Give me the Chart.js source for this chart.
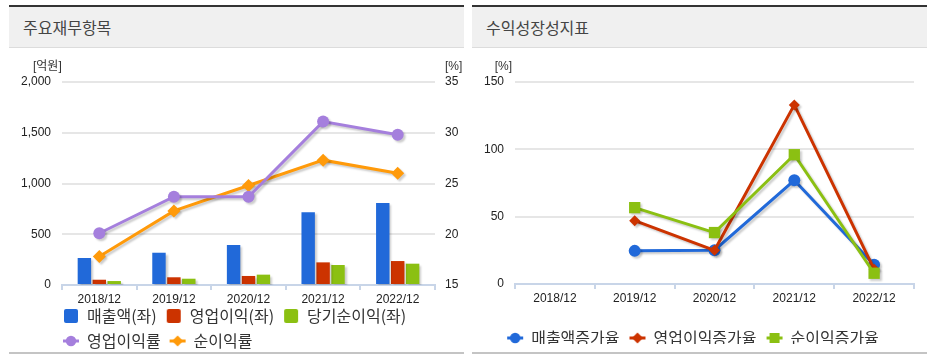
<!DOCTYPE html>
<html>
<head>
<meta charset="utf-8">
<script src="https://cdn.jsdelivr.net/npm/chart.js@4.4.1/dist/chart.umd.min.js"></script>
<style>
body { margin: 0; background: #fff; font-family: "Noto Sans CJK KR", sans-serif; }
.panel { position: absolute; top: 5px; width: 455px; height: 349px; box-sizing: border-box;
         border-top: 2px solid #333; border-bottom: 2px solid #c4c4c4; }
.head { height: 40px; line-height: 40px; background: #f0f0f0; border-bottom: 1px solid #dcdcdc;
        padding-left: 14px; font-size: 16px; color: #444; }
canvas { display: block; }
</style>
</head>
<body>
<div class="panel" style="left:9px">
  <div class="head">주요재무항목</div>
  <canvas id="finChart" width="455" height="304"></canvas>
</div>
<div class="panel" style="left:472px">
  <div class="head">수익성장성지표</div>
  <canvas id="growthChart" width="455" height="304"></canvas>
</div>
<script>
const periods = ["2018/12", "2019/12", "2020/12", "2021/12", "2022/12"];

// 주요재무항목 (억원, %)
const sales = [266, 318, 394, 716, 808];
const opProfit = [52, 76, 89, 223, 236];
const netProfit = [39, 62, 102, 197, 210];
const opMargin = [20.1, 23.7, 23.7, 31.1, 29.8];
const netMargin = [17.8, 22.3, 24.8, 27.3, 26.0];

// 수익성장성지표 (%)
const salesGrowth = [null, 24.6, 25.1, 77, 14.3];
const opGrowth = [null, 47, 25, 133, 11];
const netGrowth = [null, 56.7, 38.2, 96, 8];

const fontFamily = '"Liberation Sans", "Noto Sans CJK KR", sans-serif';
const tickFont = { family: fontFamily, size: 12 };
const legendFont = { family: '"Noto Sans CJK KR", sans-serif', size: 16 };

const BLUE = "#2169d9", RED = "#cc3300", GREEN = "#8bc012", PURPLE = "#a57fdd", ORANGE = "#ff9a0a";

// small legend icons (box for bars, line + marker for lines)
function marker(color, shape) {
    const c = document.createElement("canvas");
    c.width = 18; c.height = 14;
    const g = c.getContext("2d");
    g.fillStyle = color;
    g.strokeStyle = color;
    if (shape === "bar") {
        g.beginPath();
        g.roundRect(2, 0, 14, 14, 2);
        g.fill();
        return c;
    }
    g.lineWidth = 3;
    g.beginPath(); g.moveTo(1, 7); g.lineTo(17, 7); g.stroke();
    g.beginPath();
    if (shape === "circle") g.arc(9, 7, 5.2, 0, Math.PI * 2);
    if (shape === "diamond") { g.moveTo(9, 1.5); g.lineTo(14.5, 7); g.lineTo(9, 12.5); g.lineTo(3.5, 7); g.closePath(); }
    if (shape === "square") g.rect(4, 2, 10, 10);
    g.fill();
    return c;
}

const shadow = {
    id: "shadow",
    beforeDatasetDraw(chart) {
        const ctx = chart.ctx;
        ctx.save();
        ctx.shadowColor = "rgba(0,0,0,0.2)";
        ctx.shadowOffsetX = 2;
        ctx.shadowOffsetY = 2;
        ctx.shadowBlur = 2;
    },
    afterDatasetDraw(chart) {
        chart.ctx.restore();
    }
};

const unitLabels = {
    id: "unitLabels",
    afterDraw(chart, args, opts) {
        const ctx = chart.ctx, area = chart.chartArea;
        ctx.save();
        ctx.font = "12px " + fontFamily;
        ctx.fillStyle = "#333";
        ctx.textBaseline = "middle";
        opts.items.forEach(it => {
            ctx.textAlign = it.align;
            const x = it.side === "left" ? area.left + it.dx : area.right + it.dx;
            ctx.fillText(it.text, x, area.top - 15);
        });
        ctx.restore();
    }
};

const legendPlace = {
    id: "legendPlace",
    afterLayout(chart, args, opts) {
        if (opts.left != null) chart.legend.left = opts.left;
        if (opts.top != null) chart.legend.top = opts.top;
    }
};

function legendLabels(markers) {
    return chart => chart.data.datasets.map((ds, i) => ({
        text: ds.label,
        pointStyle: markers[i],
        datasetIndex: i,
        hidden: false,
        fontColor: "#333",
        lineWidth: 0,
        strokeStyle: "transparent",
        fillStyle: "transparent"
    }));
}

const xAxis = {
    offset: true,
    grid: { display: true, drawOnChartArea: false, offset: true, tickLength: 5, color: "#c8d5e8", lineWidth: 2 },
    border: { color: "#c8d5e8", width: 2 },
    ticks: { font: tickFont, color: "#222", padding: 2, maxRotation: 0 },
    afterFit(s) { s.height = 24; }
};

new Chart(document.getElementById("finChart"), {
    type: "bar",
    data: {
        labels: periods,
        datasets: [
            { label: "매출액(좌)", data: sales, backgroundColor: BLUE, yAxisID: "y", order: 2 },
            { label: "영업이익(좌)", data: opProfit, backgroundColor: RED, yAxisID: "y", order: 2 },
            { label: "당기순이익(좌)", data: netProfit, backgroundColor: GREEN, yAxisID: "y", order: 2 },
            { type: "line", label: "영업이익률", data: opMargin, borderColor: PURPLE, backgroundColor: PURPLE,
              borderWidth: 3, pointRadius: 6, pointBorderWidth: 0, pointStyle: "circle", yAxisID: "y1", order: 1 },
            { type: "line", label: "순이익률", data: netMargin, borderColor: ORANGE, backgroundColor: ORANGE,
              borderWidth: 3, pointRadius: 6.5, pointBorderWidth: 0, pointStyle: "rectRot", yAxisID: "y1", order: 1 }
        ]
    },
    options: {
        responsive: false,
        animation: false,
        layout: { padding: { top: 34, right: 0, bottom: 0, left: 0 } },
        datasets: { bar: { categoryPercentage: 0.6, barPercentage: 0.9 } },
        scales: {
            x: xAxis,
            y: {
                position: "left", min: 0, max: 2000,
                ticks: { stepSize: 500, font: tickFont, color: "#222", padding: 11,
                         callback: v => v.toLocaleString("en-US") },
                grid: { drawTicks: false, lineWidth: 2, color: c => c.tick.value === 0 ? "transparent" : "#e6e6e6" },
                border: { display: false },
                afterFit(s) { s.width = 53; }
            },
            y1: {
                position: "right", min: 15, max: 35,
                ticks: { stepSize: 5, font: tickFont, color: "#222", padding: 10 },
                grid: { drawOnChartArea: false, drawTicks: false },
                border: { display: false },
                afterFit(s) { s.width = 29; }
            }
        },
        plugins: {
            tooltip: { enabled: false },
            legend: {
                position: "bottom", align: "start", maxHeight: 43,
                labels: {
                    usePointStyle: true, boxWidth: 16, padding: 9, font: legendFont, color: "#333",
                    generateLabels: legendLabels([marker(BLUE, "bar"), marker(RED, "bar"), marker(GREEN, "bar"),
                                                  marker(PURPLE, "circle"), marker(ORANGE, "diamond")])
                }
            },
            legendPlace: { left: 45, top: 251 },
            unitLabels: { items: [
                { text: "[억원]", side: "left", dx: -29, align: "left" },
                { text: "[%]", side: "right", dx: 10, align: "left" }
            ] }
        }
    },
    plugins: [shadow, unitLabels, legendPlace]
});

new Chart(document.getElementById("growthChart"), {
    type: "line",
    data: {
        labels: periods,
        datasets: [
            { label: "매출액증가율", data: salesGrowth, borderColor: BLUE, backgroundColor: BLUE,
              borderWidth: 3, pointRadius: 6, pointBorderWidth: 0, pointStyle: "circle", order: 3 },
            { label: "영업이익증가율", data: opGrowth, borderColor: RED, backgroundColor: RED,
              borderWidth: 3, pointRadius: 5.5, pointBorderWidth: 0, pointStyle: "rectRot", order: 2 },
            { label: "순이익증가율", data: netGrowth, borderColor: GREEN, backgroundColor: GREEN,
              borderWidth: 3, pointRadius: 8, pointBorderWidth: 0, pointStyle: "rect", order: 1 }
        ]
    },
    options: {
        responsive: false,
        animation: false,
        layout: { padding: { top: 34, right: 13, bottom: 8, left: 0 } },
        scales: {
            x: xAxis,
            y: {
                min: 0, max: 150,
                ticks: { stepSize: 50, font: tickFont, color: "#222", padding: 11 },
                grid: { drawTicks: false, lineWidth: 2, color: c => c.tick.value === 0 ? "transparent" : "#e6e6e6" },
                border: { display: false },
                afterFit(s) { s.width = 43; }
            }
        },
        plugins: {
            tooltip: { enabled: false },
            legend: {
                position: "bottom", align: "center",
                labels: {
                    usePointStyle: true, boxWidth: 16, padding: 10, font: legendFont, color: "#333",
                    generateLabels: legendLabels([marker(BLUE, "circle"), marker(RED, "diamond"), marker(GREEN, "square")])
                }
            },
            legendPlace: { top: 272 },
            unitLabels: { items: [
                { text: "[%]", side: "left", dx: -3, align: "right" }
            ] }
        }
    },
    plugins: [shadow, unitLabels, legendPlace]
});
</script>
</body>
</html>
